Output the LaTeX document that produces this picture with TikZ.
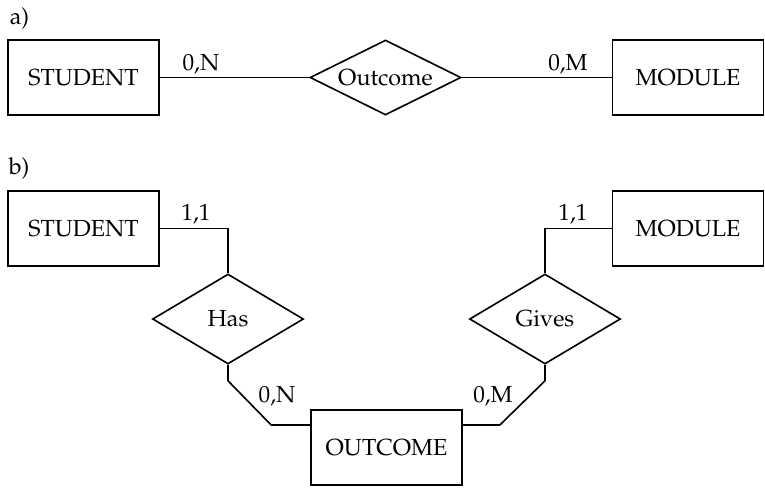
\documentclass[tikz,border=0pt]{standalone}
\usepackage[T1]{fontenc}
\usepackage{mathpazo}
\usetikzlibrary{shapes.geometric,calc}
\begin{document}
\begin{tikzpicture}[x=0.4pt,y=-0.4pt,
  every path/.style={line width=0.65pt},
  every node/.style={font=\fontsize{9.3}{11}\selectfont},
  entity/.style={draw,rectangle,inner sep=0pt,minimum width=60.4pt,minimum height=30pt},
  relship/.style={draw,diamond,inner sep=0pt,aspect=2,minimum width=60.4pt,minimum height=#1},
  relship/.default=30pt,
  card/.style={anchor=base,inner sep=0pt}]
\useasboundingbox (0,0) rectangle (765,488);

% a) binary relationship
\node[anchor=base west,inner sep=0pt] (capa) at (9,24) {a)};
\node[entity] (stuA) at (83.5,77.5) {STUDENT};
\node[relship] (outA) at (385.5,77.5) {Outcome};
\node[entity] (modA) at (688,77.5) {MODULE};
\draw (stuA) -- (outA);
\draw (outA) -- (modA);
\node[card] (cNa) at (201,70) {0,N};
\node[card] (cMa) at (568,70) {0,M};

% b) relationship resolved into an entity
\node[anchor=base west,inner sep=0pt] (capb) at (8,174) {b)};
\node[entity] (stuB) at (83.5,228.5) {STUDENT};
\node[entity] (modB) at (688,228.5) {MODULE};
\node[relship=36pt] (has) at (228,319) {Has};
\node[relship=36pt] (gives) at (545,319) {Gives};
\node[entity] (outB) at (386.5,447.5) {OUTCOME};

\draw (stuB.east) -| (has.north);
\draw (modB.west) -| (gives.north);
\draw (has.south) -- ++(0,16) -- ($(outB.west)+(-39,-22.5)$) -- ($(outB.west)+(0,-22.5)$);
\draw (gives.south) -- ++(0,16) -- ($(outB.east)+(37,-22.5)$) -- ($(outB.east)+(0,-22.5)$);

\node[card] (c11l) at (196,220) {1,1};
\node[card] (c11r) at (573,220) {1,1};
\node[card] (cNb) at (277,402) {0,N};
\node[card] (cMb) at (493,402) {0,M};
\end{tikzpicture}
\end{document}
